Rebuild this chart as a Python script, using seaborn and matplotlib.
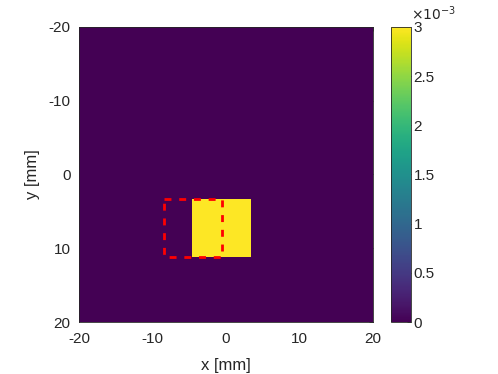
import numpy as np
import seaborn as sns
import matplotlib
matplotlib.use("Agg")
import matplotlib.pyplot as plt

# ---- data ----
x_range = [-20.0, 20.0]          # mm
y_range = [-20.0, 20.0]          # mm
step = 0.1                       # mm per cell
square_x = [-4.6, 3.4]           # mm
square_y = [3.3, 11.2]           # mm
square_value = 3e-3
dashed_x = [-8.5, -0.6]          # mm
dashed_y = [3.3, 11.2]           # mm
tick_values = [-20, -10, 0, 10, 20]
cbar_ticks = [0, 0.5e-3, 1e-3, 1.5e-3, 2e-3, 2.5e-3, 3e-3]
cbar_labels = ["0", "0.5", "1", "1.5", "2", "2.5", "3"]

sns.set_style("white")
plt.rcParams['font.family'] = ['Liberation Sans', 'DejaVu Sans']
plt.rcParams['font.size'] = 11

nx = int(round((x_range[1] - x_range[0]) / step))
ny = int(round((y_range[1] - y_range[0]) / step))
xc = x_range[0] + (np.arange(nx) + 0.5) * step
yc = y_range[0] + (np.arange(ny) + 0.5) * step
X, Y = np.meshgrid(xc, yc)
Z = np.zeros((ny, nx))
Z[(X >= square_x[0]) & (X <= square_x[1]) & (Y >= square_y[0]) & (Y <= square_y[1])] = square_value


def to_ix(v):
    return (v - x_range[0]) / step


def to_iy(v):
    return (v - y_range[0]) / step


fig = plt.figure(figsize=(4.98, 3.74), dpi=100)
ax = fig.add_axes([0.1586, 0.139, 0.5904, 0.789])
cax = fig.add_axes([0.785, 0.139, 0.040, 0.789])

sns.heatmap(Z, ax=ax, cbar_ax=cax, cmap="viridis", vmin=0, vmax=square_value,
            xticklabels=False, yticklabels=False, rasterized=True)

# dashed rectangle
rx = [dashed_x[0], dashed_x[1], dashed_x[1], dashed_x[0], dashed_x[0]]
ry = [dashed_y[0], dashed_y[0], dashed_y[1], dashed_y[1], dashed_y[0]]
ax.plot([to_ix(v) for v in rx], [to_iy(v) for v in ry], color="red",
        linestyle=(0, (2.5, 2.8)), linewidth=2)

tc = "#262626"
ax.set_xticks([to_ix(v) for v in tick_values])
ax.set_xticklabels([str(v) for v in tick_values])
ax.set_yticks([to_iy(v) for v in tick_values])
ax.set_yticklabels([str(v) for v in tick_values], rotation=0)
ax.tick_params(direction="in", length=3, width=0.5, colors=tc, labelcolor=tc,
               top=True, right=True, labelsize=11)
ax.tick_params(axis="x", pad=7)
ax.tick_params(axis="y", pad=6)
ax.set_xlabel("x [mm]", color=tc, fontsize=12, labelpad=9)
ax.set_ylabel("y [mm]", color=tc, fontsize=12, labelpad=6)
for s in ax.spines.values():
    s.set_visible(True)
    s.set_color(tc)
    s.set_linewidth(0.6)

cb = ax.collections[0].colorbar
cb.set_ticks(cbar_ticks)
cb.set_ticklabels(cbar_labels)
cax.tick_params(direction="in", length=3, width=0.5, colors=tc, labelcolor=tc,
                labelsize=11, pad=2)
cb.outline.set_visible(True)
cb.outline.set_edgecolor(tc)
cb.outline.set_linewidth(0.6)
cax.text(1.0, 1.015, r"$\times10^{-3}$", transform=cax.transAxes, ha="left", va="bottom",
         color=tc, fontsize=10)

fig.savefig("out.png", dpi=100)
